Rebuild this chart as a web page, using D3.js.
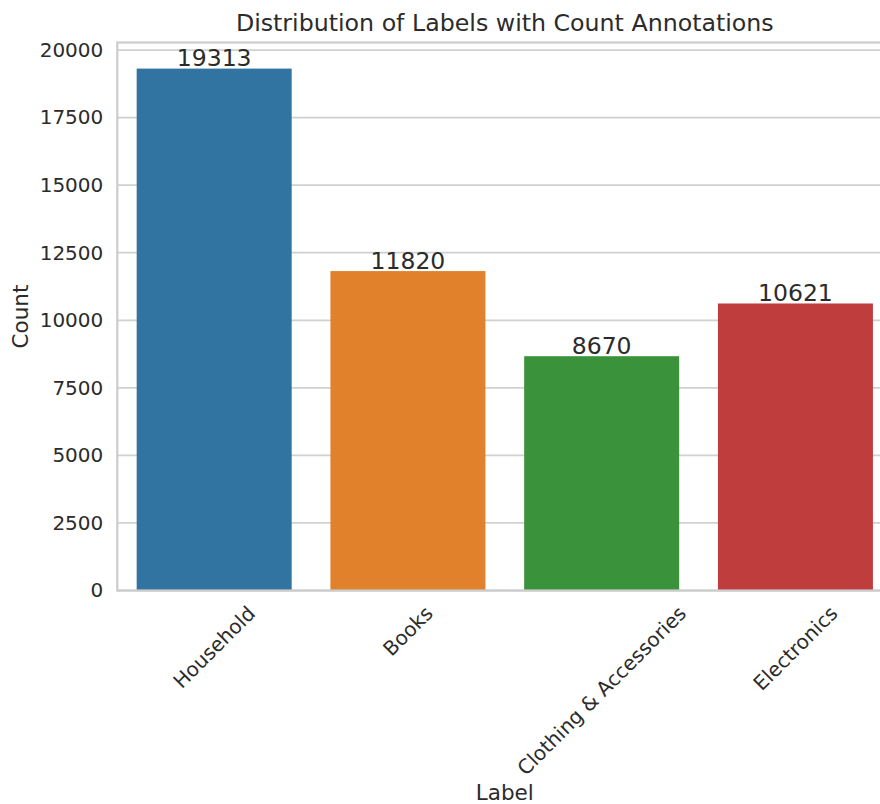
<!DOCTYPE html>
<html>
<head>
<meta charset="utf-8">
<script src="https://cdn.jsdelivr.net/npm/d3@7"></script>
<style>
  html, body { margin: 0; padding: 0; background: #ffffff; }
  svg { display: block; font-family: "DejaVu Sans", sans-serif; }
</style>
</head>
<body>
<svg id="chart" width="880" height="804"></svg>
<script>
// Label counts
const categories = ["Household", "Books", "Clothing & Accessories", "Electronics"];
const counts = [19313, 11820, 8670, 10621];
const barColors = ["#3274a1", "#e1812c", "#3a923a", "#c03d3e"];
const yTicks = [0, 2500, 5000, 7500, 10000, 12500, 15000, 17500, 20000];

const svg = d3.select("#chart");

// Plot area (the right edge runs past the visible canvas)
const plot = { left: 117.3, right: 892.3, top: 42.5, bottom: 590.5 };
const textColor = "#2b2b2b";
const gridColor = "#d0d0d0";

const x = d3.scaleBand()
  .domain(categories)
  .range([plot.left, plot.right])
  .paddingInner(0.2)
  .paddingOuter(0.1);

const yMax = d3.max(counts) * 1.05;
const y = d3.scaleLinear().domain([0, yMax]).range([plot.bottom, plot.top]);

// Horizontal grid
svg.append("g")
  .selectAll("line")
  .data(yTicks)
  .join("line")
  .attr("x1", plot.left)
  .attr("x2", plot.right)
  .attr("y1", d => y(d))
  .attr("y2", d => y(d))
  .attr("stroke", gridColor)
  .attr("stroke-width", 1.75);

// Bars
svg.append("g")
  .selectAll("rect")
  .data(categories)
  .join("rect")
  .attr("x", d => x(d))
  .attr("width", x.bandwidth())
  .attr("y", (d, i) => y(counts[i]))
  .attr("height", (d, i) => y(0) - y(counts[i]))
  .attr("fill", (d, i) => barColors[i]);

// Frame
svg.append("rect")
  .attr("x", plot.left)
  .attr("y", plot.top)
  .attr("width", plot.right - plot.left)
  .attr("height", plot.bottom - plot.top)
  .attr("fill", "none")
  .attr("stroke", "#cccccc")
  .attr("stroke-width", 2.2);

// Y axis tick labels
const yAxis = d3.axisLeft(y).tickValues(yTicks).tickSize(0).tickPadding(14).tickFormat(d3.format("d"));
const gy = svg.append("g").attr("transform", `translate(${plot.left},0)`).call(yAxis);
gy.select(".domain").remove();
gy.selectAll("text")
  .attr("fill", textColor)
  .style("font-size", "20px")
  .style("font-family", "'DejaVu Sans', sans-serif");

// X axis tick labels, rotated 45° and centred under each bar
const xAxis = d3.axisBottom(x).tickSize(0).tickFormat(d => d);
const gx = svg.append("g").attr("transform", `translate(0,${plot.bottom})`).call(xAxis);
gx.select(".domain").remove();
const fsX = 20;
const pad = 11;
gx.selectAll("text")
  .attr("fill", textColor)
  .style("font-size", fsX + "px")
  .style("font-family", "'DejaVu Sans', sans-serif")
  .attr("text-anchor", "middle")
  .attr("dy", null)
  .attr("dominant-baseline", "central")
  .each(function () {
    const w = this.getComputedTextLength();
    const h = fsX * 1.17;
    const boxH = (w + h) / Math.SQRT2;
    d3.select(this)
      .attr("y", 0)
      .attr("transform", `translate(0,${pad + boxH / 2}) rotate(-45)`);
  });

// Count annotations above bars
svg.append("g")
  .selectAll("text")
  .data(categories)
  .join("text")
  .attr("x", d => x(d) + x.bandwidth() / 2)
  .attr("y", (d, i) => y(counts[i]) - 2.5)
  .attr("text-anchor", "middle")
  .attr("fill", textColor)
  .style("font-size", "23.5px")
  .text((d, i) => counts[i]);

// Axis titles
const midX = (plot.left + plot.right) / 2;
svg.append("text")
  .attr("x", midX)
  .attr("y", 800)
  .attr("text-anchor", "middle")
  .attr("fill", textColor)
  .style("font-size", "21.5px")
  .text("Label");

svg.append("text")
  .attr("transform", `translate(28,${(plot.top + plot.bottom) / 2}) rotate(-90)`)
  .attr("text-anchor", "middle")
  .attr("fill", textColor)
  .style("font-size", "21.5px")
  .text("Count");

// Title
svg.append("text")
  .attr("x", midX)
  .attr("y", 31)
  .attr("text-anchor", "middle")
  .attr("fill", textColor)
  .style("font-size", "23.7px")
  .text("Distribution of Labels with Count Annotations");
</script>
</body>
</html>
